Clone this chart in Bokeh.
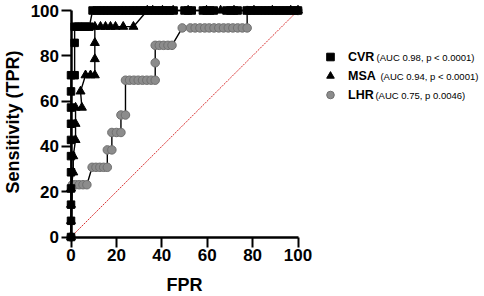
from bokeh.plotting import figure
from bokeh.models import Range1d, FixedTicker, Label, Legend, LegendItem
from bokeh.core.properties import value
from bokeh.embed import file_html
from bokeh.resources import INLINE

# ---- data (FPR %, TPR %) ----
cvr_x = [0, 0, 0, 0, 0, 0, 0, 0, 0, 0, 0, 1.6, 1.6, 1.6, 3.2, 4.8, 6.4, 8.1,
         9.5, 11.3, 12.9, 14.5, 16.1, 17.7, 19.4, 21.0, 22.6, 24.2, 25.8, 27.4,
         29.0, 30.6, 32.3, 33.9, 35.5, 37.1, 38.7, 40.3, 41.9, 43.5, 45.2,
         50.0, 51.6, 53.2, 58.1, 59.7, 61.3, 62.9, 68.5, 70.2, 71.8, 73.4,
         77.4, 79.0, 80.6, 82.3, 83.9, 85.5, 87.1, 88.7, 90.3, 91.9, 93.5,
         95.2, 96.8, 98.4, 100.0]
cvr_y = [0, 7.14, 14.29, 21.43, 28.57, 35.71, 42.86, 50.0, 57.14, 64.29, 71.43,
         71.43, 85.71, 92.86, 92.86, 92.86, 92.86, 92.86,
         100, 100, 100, 100, 100, 100, 100, 100, 100, 100, 100, 100,
         100, 100, 100, 100, 100, 100, 100, 100, 100, 100, 100,
         100, 100, 100, 100, 100, 100, 100, 100, 100, 100, 100,
         100, 100, 100, 100, 100, 100, 100, 100, 100, 100, 100,
         100, 100, 100, 100]

msa_x = [0, 0, 0, 0, 1.0, 1.0, 2.0, 2.0, 2.0, 4.8, 4.2, 6.4, 8.6, 10.5, 10.5,
         10.5, 10.5, 13.0, 15.2, 17.4, 19.6, 23.0, 27.5, 33.6, 36.0, 40.3,
         45.0, 51.6, 59.7, 65.9, 71.8, 80.6, 88.7, 96.8, 100.0]
msa_y = [0, 7.14, 14.29, 21.43, 28.57, 35.71, 42.86, 50.0, 57.14, 57.14, 64.29,
         71.43, 71.43, 71.43, 78.57, 85.71, 92.86, 92.86, 92.86, 92.86, 92.86,
         92.86, 92.86, 100, 100, 100, 100, 100, 100, 100, 100, 100, 100, 100,
         100]

lhr_x = [0, 0.6, 2.0, 3.6, 5.3, 7.0, 9.3, 11.0, 12.7, 14.4, 16.0, 16.0, 18.0,
         18.0, 20.0, 22.0, 22.0, 24.0, 24.0, 25.8, 27.7, 29.6, 31.5, 33.4,
         35.3, 37.1, 37.1, 37.1, 38.9, 40.8, 42.7, 44.5, 49.0, 52.6, 54.7,
         56.8, 58.9, 60.9, 63.0, 65.1, 67.2, 69.3, 71.3, 73.4, 75.5, 77.6,
         77.6, 100.0]
lhr_y = [0, 23.08, 23.08, 23.08, 23.08, 23.08, 30.77, 30.77, 30.77, 30.77,
         30.77, 38.46, 38.46, 46.15, 46.15, 46.15, 53.85, 53.85, 69.23, 69.23,
         69.23, 69.23, 69.23, 69.23, 69.23, 69.23, 76.92, 84.62, 84.62, 84.62,
         84.62, 84.62, 92.31, 92.31, 92.31, 92.31, 92.31, 92.31, 92.31, 92.31,
         92.31, 92.31, 92.31, 92.31, 92.31, 92.31, 100, 100]

diag_x = [0, 100]
diag_y = [0, 100]

ticks = [0, 20, 40, 60, 80, 100]
series_names = ["CVR", "MSA", "LHR"]
series_notes = ["(AUC 0.98, p < 0.0001)", "(AUC 0.94, p < 0.0001)", "(AUC 0.75, p 0.0046)"]
x_title = "FPR"
y_title = "Sensitivity (TPR)"

# ---- layout (frame covers the whole canvas) ----
W, H = 484, 296
X_PX = 2.27
Y_PX = 2.265
x0 = -70.5 / X_PX
x1 = x0 + W / X_PX
y1 = 100 + 10 / Y_PX
y0 = y1 - H / Y_PX

FONT = "Liberation Sans"

p = figure(width=W, height=H, output_backend="svg", toolbar_location=None,
           x_range=Range1d(x0, x1), y_range=Range1d(y0, y1),
           min_border_left=0, min_border_right=0, min_border_top=0,
           min_border_bottom=0)
p.outline_line_color = None
p.grid.visible = False
p.background_fill_color = "white"

for ax in (p.xaxis[0], p.yaxis[0]):
    ax.ticker = FixedTicker(ticks=ticks)
    ax.bounds = (0, 100)
    ax.fixed_location = 0
    ax.axis_line_width = 2.5
    ax.axis_line_color = "black"
    ax.major_tick_line_width = 2
    ax.major_tick_line_color = "black"
    ax.major_tick_out = 10
    ax.major_tick_in = 0
    ax.minor_tick_line_color = None
    ax.major_label_standoff = 2
    ax.major_label_text_font = FONT
    ax.major_label_text_font_style = "bold"
    ax.major_label_text_font_size = "17px"
    ax.major_label_text_color = "black"

p.line(diag_x, diag_y, line_color="#d93030", line_width=1, line_dash="2 1")

p.line(lhr_x, lhr_y, line_color="black", line_width=1.4)
lhr_r = p.scatter(lhr_x, lhr_y, marker="circle", size=8.5, fill_color="#8c8c8c",
                  line_color="#707070", line_width=1)
p.line(msa_x, msa_y, line_color="black", line_width=1.4)
msa_r = p.scatter(msa_x, msa_y, marker="triangle", size=9, fill_color="black",
                  line_color="black")
p.line(cvr_x, cvr_y, line_color="black", line_width=1.4)
cvr_r = p.scatter(cvr_x, cvr_y, marker="square", size=7.5, fill_color="black",
                  line_color="black")

legend = Legend(items=[LegendItem(label=value(series_names[0]), renderers=[cvr_r]),
                       LegendItem(label=value(series_names[1]), renderers=[msa_r]),
                       LegendItem(label=value(series_names[2]), renderers=[lhr_r])],
                location=(320, 192), glyph_width=20, glyph_height=19,
                label_height=19, spacing=0, padding=0, margin=0,
                label_standoff=8, background_fill_alpha=0, border_line_alpha=0,
                label_text_font=FONT, label_text_font_style="bold",
                label_text_font_size="12.5px", label_text_color="black")
p.add_layout(legend)

note_x = [134.6, 136.3, 134.1]
note_y = [79.25, 71.08, 62.69]
for nx, ny, txt in zip(note_x, note_y, series_notes):
    p.add_layout(Label(x=nx, y=ny, text=txt, text_font=FONT,
                       text_font_size="9.5px", text_baseline="middle",
                       text_align="left", text_color="black"))

p.add_layout(Label(x=50, y=-21.4, text=x_title, text_font=FONT,
                   text_font_style="bold", text_font_size="18px",
                   text_align="center", text_baseline="middle", text_color="black"))
p.add_layout(Label(x=-25.55, y=50.77, text=y_title, text_font=FONT,
                   text_font_style="bold", text_font_size="18px", angle=1.5708,
                   text_align="center", text_baseline="middle", text_color="black"))

open("out.html", "w").write(file_html(p, INLINE))
